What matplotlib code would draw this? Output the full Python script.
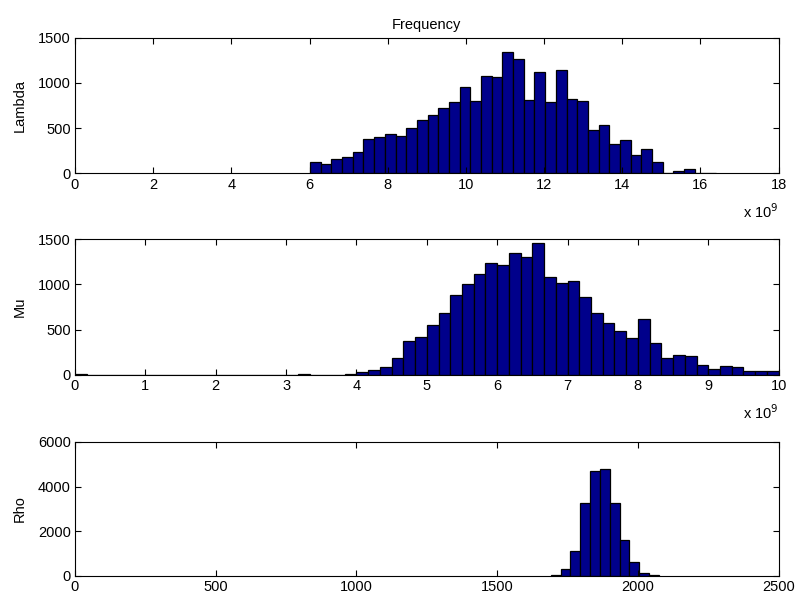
import numpy as np
import matplotlib
matplotlib.use("Agg")
import matplotlib.pyplot as plt

plt.rcParams['font.family'] = ['Liberation Sans', 'DejaVu Sans']
plt.rcParams['font.size'] = 10.5

# Lambda histogram (60 bins over 0 .. 16.4e9), nonzero part starts at bin 22
lambda_range = 16.4e9
lambda_first_bin = 22
lambda_counts = [125, 107, 155, 181, 233, 384, 406, 440, 414, 499, 595, 647,
                 724, 787, 950, 802, 1079, 1068, 1337, 1260, 809, 1123, 794,
                 1138, 820, 805, 484, 539, 329, 373, 203, 273, 126, 7, 26, 52,
                 0, 0]

# Mu histogram (60 bins over 0 .. 10e9)
mu_range = 10e9
mu_counts = [10] + [0] * 18 + [8, 0, 0, 0, 8] + [
    37, 59, 88, 191, 379, 423, 551, 680, 886, 1000, 1118, 1232, 1217, 1353,
    1298, 1463, 1085, 1011, 1042, 857, 688, 577, 482, 412, 618, 357, 191,
    217, 206, 110, 70, 103, 85, 40, 48, 48]

# Rho histogram
rho_start = 1690
rho_width = 35
rho_counts = [30, 300, 1120, 3250, 4700, 4800, 3250, 1600, 600, 150, 30]

names = ['Lambda', 'Mu', 'Rho']
xlims = [(0, 18e9), (0, 10e9), (0, 2500)]
xticks = [np.arange(0, 19e9, 2e9), np.arange(0, 11e9, 1e9), np.arange(0, 2501, 500)]
yticks = [[0, 500, 1000, 1500], [0, 500, 1000, 1500], [0, 2000, 4000, 6000]]

w1 = lambda_range / 60
x1 = (lambda_first_bin + np.arange(len(lambda_counts))) * w1
w2 = mu_range / 60
x2 = np.arange(len(mu_counts)) * w2
x3 = rho_start + np.arange(len(rho_counts)) * rho_width
bars = [(x1, lambda_counts, w1), (x2, mu_counts, w2), (x3, rho_counts, rho_width)]

fig = plt.figure(figsize=(7.97, 5.98), dpi=100)
rects = [[0.094, 0.710, 0.883, 0.227],
         [0.094, 0.373, 0.883, 0.227],
         [0.094, 0.037, 0.883, 0.224]]

for i in range(3):
    ax = fig.add_axes(rects[i])
    x, c, w = bars[i]
    ax.bar(x, c, width=w, align='edge', color='#00008b', edgecolor='black', linewidth=0.9)
    ax.set_xlim(*xlims[i])
    ax.set_ylim(yticks[i][0], yticks[i][-1])
    ax.set_xticks(xticks[i])
    ax.set_yticks(yticks[i])
    if i < 2:
        ax.set_xticklabels([str(int(round(v / 1e9))) for v in xticks[i]])
        ax.text(1.0, -0.21, r'x 10$^{9}$', transform=ax.transAxes, ha='right', va='top')
    ax.tick_params(direction='in', top=True, right=True, length=4, width=0.8, pad=3)
    for s in ax.spines.values():
        s.set_linewidth(0.8)
    ax.set_ylabel(names[i])
    ax.yaxis.set_label_coords(-0.068, 0.5)
    if i == 0:
        ax.set_title('Frequency', fontsize=10.5, pad=6)

fig.savefig('out.png', dpi=100)
